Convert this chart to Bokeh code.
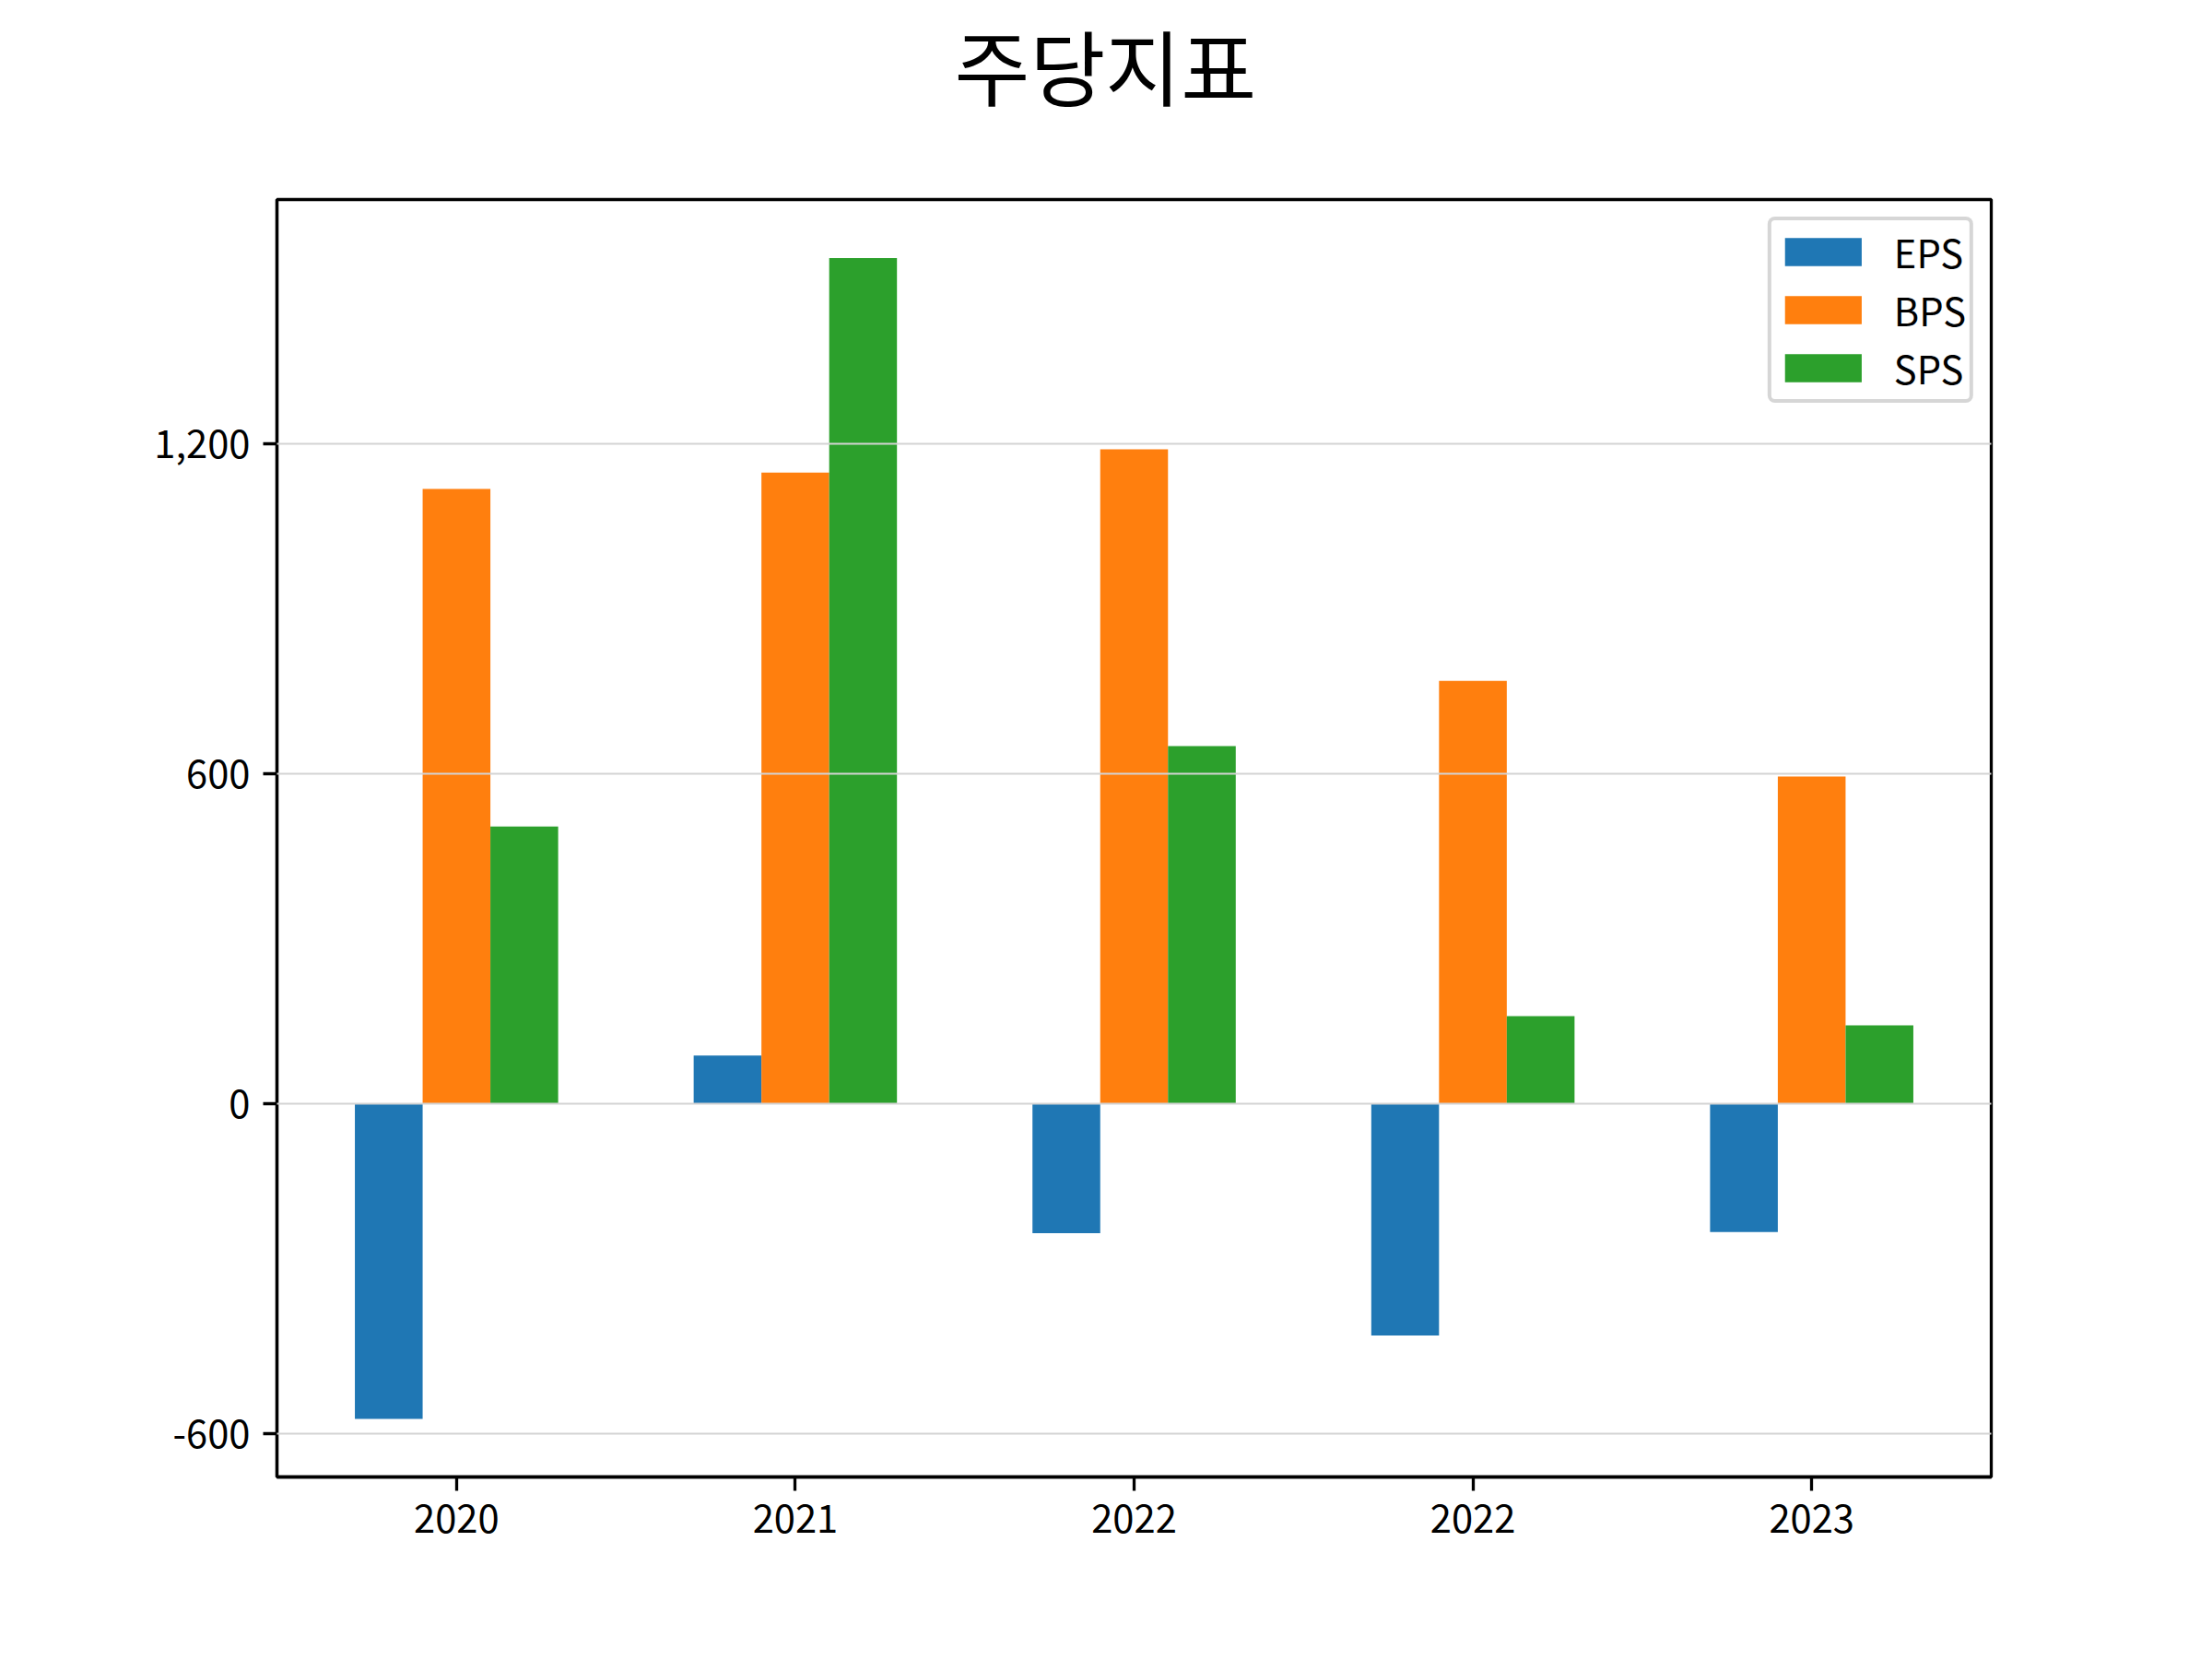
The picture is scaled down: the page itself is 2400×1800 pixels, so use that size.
from bokeh.plotting import figure
from bokeh.models import ColumnDataSource, FixedTicker, NumeralTickFormatter, Range1d, Title
from bokeh.transform import dodge
from bokeh.embed import file_html
from bokeh.resources import INLINE

title_text = "주당지표"
years = ["2020", "2021", "2022", "2022", "2023"]
eps = [-574, 87, -236, -422, -234]
bps = [1118, 1148, 1190, 769, 595]
sps = [504, 1538, 650, 159, 142]
y_ticks = [-600, 0, 600, 1200]

series_names = ["EPS", "BPS", "SPS"]
colors = ["#1f77b4", "#ff7f0e", "#2ca02c"]

src = ColumnDataSource(dict(x=list(range(len(years))), EPS=eps, BPS=bps, SPS=sps))

FONT = "Noto Sans CJK KR"
FS = "41.7px"

p = figure(width=2400, height=1800, output_backend="svg", toolbar_location=None,
           x_range=Range1d(-0.53, 4.53), y_range=Range1d(-679.6, 1644.6),
           min_border_left=300, min_border_right=240, min_border_top=216, min_border_bottom=198,
           title=title_text)

bar_w = 0.2
offsets = [-bar_w, 0.0, bar_w]
for name, col, off in zip(series_names, colors, offsets):
    p.vbar(x=dodge("x", off), top=name, bottom=0, width=bar_w, source=src,
           fill_color=col, line_color=None, legend_label=name)

p.title.align = "left"
p.title.offset = 735
p.title.text_font = FONT
p.title.text_font_size = "89px"
p.title.text_font_style = "normal"
p.title.text_color = "black"
p.title.standoff = 0

# empty spacer between the title and the frame
p.add_layout(Title(text=" ", text_font_size="2px", standoff=79), "above")

p.outline_line_color = "black"
p.outline_line_width = 3.3

p.xgrid.grid_line_color = None
p.ygrid.grid_line_color = "#d3d3d3"
p.ygrid.grid_line_width = 2
p.ygrid.level = "annotation"

p.xaxis.ticker = FixedTicker(ticks=list(range(len(years))))
p.xaxis.major_label_overrides = {i: y for i, y in enumerate(years)}
p.yaxis.ticker = FixedTicker(ticks=y_ticks)
p.yaxis.formatter = NumeralTickFormatter(format="0,0")

for ax in (p.xaxis, p.yaxis):
    ax.axis_line_color = "black"
    ax.axis_line_width = 3.3
    ax.major_tick_line_color = "black"
    ax.major_tick_line_width = 3.3
    ax.major_tick_out = 15
    ax.major_tick_in = 0
    ax.minor_tick_line_color = None
    ax.major_label_text_font = FONT
    ax.major_label_text_font_size = FS
    ax.major_label_text_color = "black"
    ax.major_label_standoff = 14

leg = p.legend[0]
leg.location = "top_right"
leg.margin = 19
leg.padding = 4
leg.border_line_color = "#cccccc"
leg.border_line_width = 4
leg.border_line_alpha = 0.8
leg.border_radius = 8
leg.background_fill_alpha = 0.8
leg.glyph_width = 104
leg.glyph_height = 38
leg.label_height = 30
leg.spacing = 3
leg.label_standoff = 25
leg.label_text_font = FONT
leg.label_text_font_size = FS
leg.label_text_color = "black"

open("out.html", "w").write(file_html(p, INLINE))
